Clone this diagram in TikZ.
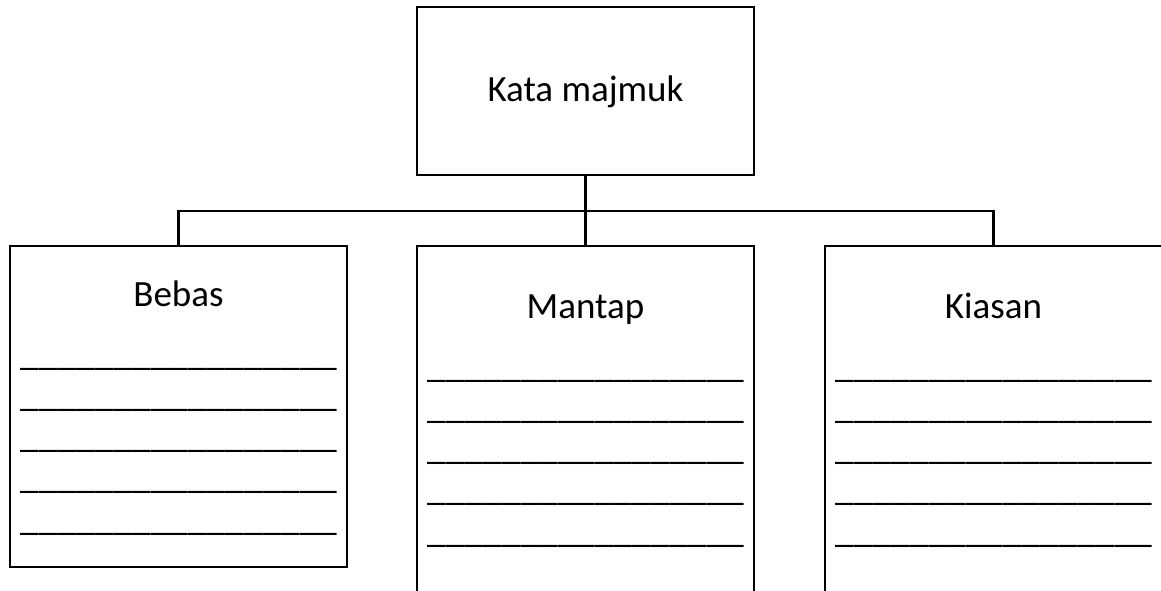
\documentclass[tikz,border=0pt]{standalone}
\usepackage{fontspec}
\setmainfont{Carlito}

\newcommand{\isian}{\_\_\_\_\_\_\_\_\_\_\_\_\_\_\_\_\_}

\begin{document}
\begin{tikzpicture}[x=0.5pt,y=-0.5pt,
  kotak/.style={draw,line width=1.4pt,minimum width=168.5pt,inner sep=0pt},
  tajuk/.style={font=\fontsize{18.5}{22}\selectfont,inner sep=0pt,anchor=base},
  isi/.style={font=\fontsize{18.7}{22}\selectfont,inner sep=0pt,anchor=base},
  garis/.style={line width=1.4pt}]
  \useasboundingbox (0,0) rectangle (1161,590);
  \clip (0,0) rectangle (1161,590);

  % kotak utama dan tiga jenis
  \node[kotak,minimum height=84pt] (induk) at (585.5,91) {};
  \node[kotak,minimum height=160.5pt] (bebas) at (178.5,406.5) {};
  \node[kotak,minimum height=180pt] (mantap) at (585.5,426) {};
  \node[kotak,minimum height=180pt] (kiasan) at (993.5,426) {};

  \node[tajuk] (t-induk) at (585.5,101) {Kata majmuk};
  \node[tajuk] (t-bebas) at (178.5,306) {Bebas};
  \node[tajuk] (t-mantap) at (585.5,318) {Mantap};
  \node[tajuk] (t-kiasan) at (993.5,318) {Kiasan};

  % ruang isian
  \foreach \i in {0,...,4}{
    \node[isi] (i-bebas-\i) at (178.5,365+41.25*\i) {\isian};
    \node[isi] (i-mantap-\i) at (585.5,377+41.25*\i) {\isian};
    \node[isi] (i-kiasan-\i) at (993.5,377+41.25*\i) {\isian};
  }

  % penyambung
  \coordinate (simpang) at (585.5,211);
  \draw[garis] (induk.south) -- (simpang);
  \draw[garis] (bebas.north) |- (simpang) -| (kiasan.north);
  \draw[garis] (simpang) -- (mantap.north);
\end{tikzpicture}
\end{document}
